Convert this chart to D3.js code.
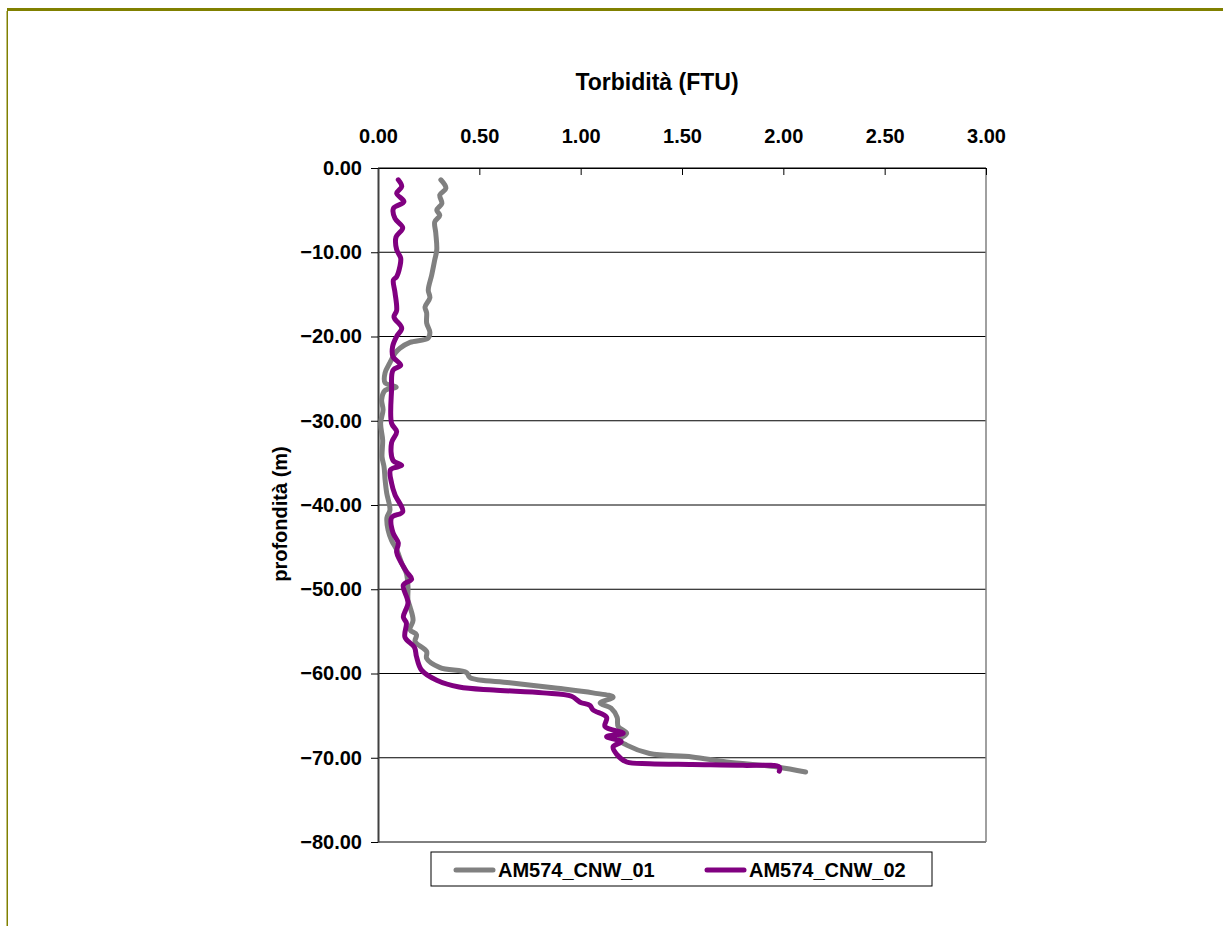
<!DOCTYPE html>
<html>
<head>
<meta charset="utf-8">
<script src="https://cdn.jsdelivr.net/npm/d3@7"></script>
<style>
  body { margin: 0; background: #fff; }
  text { font-family: "Liberation Sans", Arial, sans-serif; font-weight: bold; }
</style>
</head>
<body>
<div id="chart"></div>
<script>
// AM574_CNW_01 (grey)
var depth01 = [-1.4, -2.4, -3.2, -4.2, -5.0, -5.6, -6.4, -7.7, -9.7, -10.9, -12.7, -14.5, -15.4, -16.5, -17.2, -18.4, -19.5, -20.2, -20.7, -21.4, -22.0, -23.1, -24.3, -25.5, -26.0, -26.4, -27.5, -28.7, -30.3, -32.3, -34.3, -35.5, -37.0, -38.6, -40.6, -41.5, -43.0, -44.2, -45.3, -46.9, -48.1, -49.7, -51.3, -52.1, -53.7, -54.8, -55.4, -56.2, -57.4, -58.2, -59.3, -59.9, -60.5, -61.1, -61.7, -62.3, -62.8, -63.5, -64.1, -65.2, -66.3, -67.1, -67.9, -68.5, -69.5, -69.9, -70.5, -71.1, -71.7];
var turb01 = [0.31, 0.335, 0.305, 0.315, 0.29, 0.305, 0.28, 0.285, 0.29, 0.28, 0.265, 0.248, 0.256, 0.232, 0.24, 0.24, 0.256, 0.247, 0.158, 0.108, 0.084, 0.059, 0.035, 0.035, 0.09, 0.035, 0.018, 0.025, 0.013, 0.023, 0.02, 0.03, 0.035, 0.043, 0.059, 0.044, 0.05, 0.067, 0.092, 0.117, 0.14, 0.148, 0.148, 0.158, 0.173, 0.158, 0.19, 0.183, 0.24, 0.24, 0.306, 0.437, 0.454, 0.65, 0.865, 1.06, 1.16, 1.096, 1.15, 1.18, 1.185, 1.227, 1.19, 1.227, 1.34, 1.55, 1.72, 1.97, 2.11];

// AM574_CNW_02 (purple)
var depth02 = [-1.4, -2.2, -3.0, -4.0, -4.8, -6.0, -7.1, -8.2, -9.7, -10.7, -11.7, -12.9, -13.3, -14.8, -16.9, -17.7, -19.0, -20.0, -21.2, -22.4, -23.4, -24.0, -26.3, -30.3, -31.3, -32.6, -34.7, -35.3, -35.8, -37.4, -38.8, -40.8, -41.5, -43.3, -44.5, -45.6, -47.9, -48.8, -49.5, -51.6, -53.3, -54.0, -55.7, -56.9, -58.0, -59.6, -60.8, -61.6, -61.96, -62.3, -62.7, -63.4, -63.8, -64.3, -65.2, -66.3, -67.1, -67.5, -68.1, -68.7, -69.6, -70.5, -70.7, -70.8, -70.9, -71.1, -71.6];
var turb02 = [0.10, 0.117, 0.092, 0.128, 0.076, 0.084, 0.122, 0.089, 0.092, 0.112, 0.108, 0.092, 0.076, 0.084, 0.092, 0.079, 0.117, 0.092, 0.072, 0.074, 0.112, 0.074, 0.067, 0.067, 0.092, 0.067, 0.074, 0.117, 0.062, 0.067, 0.084, 0.122, 0.067, 0.074, 0.10, 0.092, 0.14, 0.166, 0.125, 0.148, 0.125, 0.14, 0.133, 0.18, 0.19, 0.215, 0.29, 0.40, 0.57, 0.815, 0.955, 0.997, 1.046, 1.06, 1.128, 1.12, 1.21, 1.128, 1.20, 1.16, 1.178, 1.227, 1.34, 1.55, 1.80, 1.98, 1.98];

var seriesNames = ["AM574_CNW_01", "AM574_CNW_02"];
var seriesColors = ["#808080", "#800080"];
var xTicks = [0, 0.5, 1, 1.5, 2, 2.5, 3];
var yTicks = [0, -10, -20, -30, -40, -50, -60, -70, -80];

var W = 1223, H = 926;
var plot = { left: 378, top: 168, right: 986, bottom: 842 };

var svg = d3.select("#chart").append("svg")
  .attr("width", W)
  .attr("height", H);

// slide frame (olive)
svg.append("rect").attr("x", 7).attr("y", 8).attr("width", W - 7).attr("height", 3).attr("fill", "#808000");
svg.append("rect").attr("x", 6.5).attr("y", 11).attr("width", 1.5).attr("height", H - 11).attr("fill", "#808000");

var x = d3.scaleLinear().domain([0, 3]).range([plot.left, plot.right]);
var y = d3.scaleLinear().domain([-80, 0]).range([plot.bottom, plot.top]);

// horizontal gridlines
svg.append("g").selectAll("line")
  .data(yTicks)
  .enter().append("line")
  .attr("x1", plot.left).attr("x2", plot.right)
  .attr("y1", function (d) { return y(d); })
  .attr("y2", function (d) { return y(d); })
  .attr("stroke", "#000")
  .attr("stroke-width", 1);

// right border
svg.append("line")
  .attr("x1", plot.right).attr("x2", plot.right)
  .attr("y1", plot.top).attr("y2", plot.bottom)
  .attr("stroke", "#808080").attr("stroke-width", 1.5);

// top axis
var xAxis = d3.axisTop(x).tickValues(xTicks).tickFormat(d3.format(".2f")).tickSizeInner(-7).tickSizeOuter(0).tickPadding(25);
var gx = svg.append("g")
  .attr("transform", "translate(0," + plot.top + ")")
  .call(xAxis);
gx.select(".domain").attr("stroke", "#000");
gx.selectAll(".tick line").attr("stroke", "#000");
gx.selectAll("text").attr("font-size", 20).attr("fill", "#000")
  .attr("font-family", "Liberation Sans, Arial, sans-serif").attr("font-weight", "bold");

// left axis
var yAxis = d3.axisLeft(y).tickValues(yTicks).tickFormat(d3.format(".2f")).tickSizeInner(7).tickSizeOuter(0).tickPadding(9);
var gy = svg.append("g")
  .attr("transform", "translate(" + plot.left + ",0)")
  .call(yAxis);
gy.select(".domain").attr("stroke", "#404040").attr("stroke-width", 2);
gy.selectAll(".tick line").attr("stroke", "#000");
gy.selectAll("text").attr("font-size", 20).attr("fill", "#000")
  .attr("font-family", "Liberation Sans, Arial, sans-serif").attr("font-weight", "bold");

// titles
svg.append("text")
  .attr("x", 657)
  .attr("y", 90)
  .attr("text-anchor", "middle")
  .attr("font-size", 23)
  .text("Torbidità (FTU)");

svg.append("text")
  .attr("transform", "translate(287," + ((plot.top + plot.bottom) / 2 + 9) + ") rotate(-90)")
  .attr("text-anchor", "middle")
  .attr("font-size", 20)
  .text("profondità (m)");

// lines
var line = d3.line()
  .x(function (d) { return x(d[1]); })
  .y(function (d) { return y(d[0]); })
  .curve(d3.curveCatmullRom);

var series = [
  d3.zip(depth01, turb01),
  d3.zip(depth02, turb02)
];

svg.append("g").selectAll("path")
  .data(series)
  .enter().append("path")
  .attr("d", line)
  .attr("fill", "none")
  .attr("stroke", function (d, i) { return seriesColors[i]; })
  .attr("stroke-width", 5)
  .attr("stroke-linejoin", "round")
  .attr("stroke-linecap", "round");

// legend
var legend = svg.append("g").attr("transform", "translate(431,852)");
legend.append("rect")
  .attr("width", 501).attr("height", 34)
  .attr("fill", "#fff").attr("stroke", "#000").attr("stroke-width", 1);

var items = legend.selectAll(".item")
  .data(seriesNames)
  .enter().append("g")
  .attr("class", "item")
  .attr("transform", function (d, i) { return "translate(" + (25 + i * 251) + ",18)"; });
items.append("line")
  .attr("x1", 0).attr("x2", 37)
  .attr("stroke", function (d, i) { return seriesColors[i]; })
  .attr("stroke-width", 5)
  .attr("stroke-linecap", "round");
items.append("text")
  .attr("x", 42).attr("dy", "0.36em")
  .attr("font-size", 20)
  .text(function (d) { return d; });
</script>
</body>
</html>
